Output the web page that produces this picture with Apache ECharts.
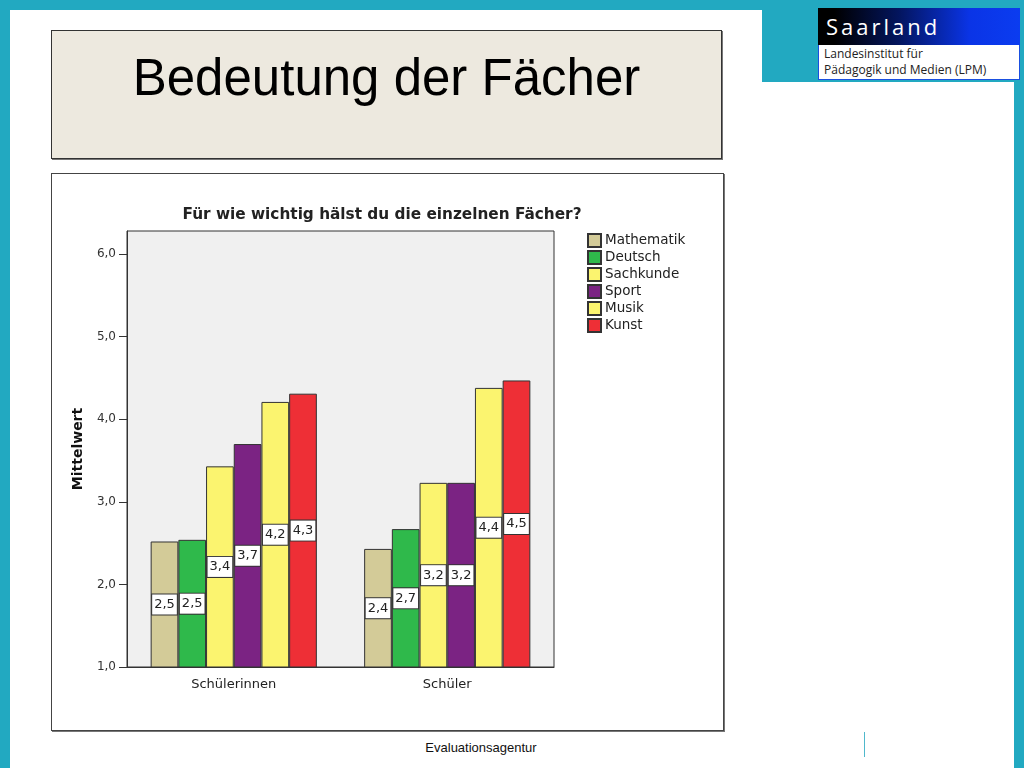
<!DOCTYPE html>
<html>
<head>
<meta charset="utf-8">
<script src="https://cdn.jsdelivr.net/npm/echarts@6/dist/echarts.min.js"></script>
<style>
  html, body { margin:0; padding:0; width:1024px; height:768px; overflow:hidden; background:#22a9c1; position:relative; font-family:"Liberation Sans", Arial, sans-serif; }
  .abs { position:absolute; }
  #chart { position:absolute; left:0; top:0; width:1024px; height:768px; }
</style>
</head>
<body>
<div class="abs" style="left:10px;top:10px;width:752px;height:758px;background:#fff;"></div>
<div class="abs" style="left:762px;top:82px;width:252px;height:686px;background:#fff;"></div>
<div class="abs" style="left:51px;top:30px;width:669px;height:127px;background:#ede9df;border:1px solid #333;box-shadow:1px 1px 0 #777;"></div>
<div class="abs" style="left:51px;top:52px;width:671px;text-align:center;font-size:51px;color:#000;line-height:52px;">Bedeutung der Fächer</div>
<div class="abs" style="left:51px;top:173px;width:671px;height:556px;background:#fff;border:1px solid #444;box-shadow:1px 1px 0 #777;"></div>
<div class="abs" style="left:818px;top:8px;width:202px;height:37px;background:linear-gradient(to right,#000 0%,#000 8%,#03155e 40%,#0a34e6 75%,#0b3cf0 100%);"></div>
<div class="abs" style="left:826px;top:11px;font-family:'Open Sans','DejaVu Sans',sans-serif;font-size:22px;letter-spacing:3px;color:#fff;line-height:30px;">Saarland</div>
<div class="abs" style="left:818px;top:45px;width:200px;height:34px;background:#fff;border:1px solid #1a4fe0;border-top:none;"></div>
<div class="abs" style="left:824px;top:46px;font-family:'Open Sans','DejaVu Sans',sans-serif;font-size:12px;color:#222;line-height:16px;">Landesinstitut für<br>Pädagogik und Medien (LPM)</div>
<div class="abs" style="left:864px;top:732px;width:1px;height:25px;background:#4fb8cc;"></div>
<div class="abs" style="left:380px;top:740px;width:202px;text-align:center;font-size:13px;color:#111;">Evaluationsagentur</div>
<div id="chart"></div>
<script>
const categories = ['Schülerinnen', 'Schüler'];
const seriesNames = ['Mathematik', 'Deutsch', 'Sachkunde', 'Sport', 'Musik', 'Kunst'];
const mathematik = [2.52, 2.43];
const deutsch = [2.54, 2.67];
const sachkunde = [3.43, 3.23];
const sport = [3.70, 3.23];
const musik = [4.21, 4.38];
const kunst = [4.31, 4.47];
const yTicks = [1, 2, 3, 4, 5, 6];
const seriesData = [mathematik, deutsch, sachkunde, sport, musik, kunst];
const colors = ['#d3cb98', '#2fb94b', '#fbf46f', '#7b2383', '#fbf46f', '#ee2f36'];
const font = '"DejaVu Sans", sans-serif';
const fmt = v => (Math.round(v * 10) / 10).toFixed(1).replace('.', ',');

const chart = echarts.init(document.getElementById('chart'), null, { renderer: 'canvas' });
chart.setOption({
  backgroundColor: 'transparent',
  animation: false,
  title: {
    text: 'Für wie wichtig hälst du die einzelnen Fächer?',
    left: 377, top: 203, textAlign: 'center',
    textStyle: { fontFamily: font, fontSize: 15.3, fontWeight: 'bold', color: '#222' }
  },
  legend: {
    orient: 'vertical', left: 587, top: 233, padding: 0,
    itemWidth: 13, itemHeight: 13, itemGap: 2,
    icon: 'rect',
    textStyle: { fontFamily: font, fontSize: 13.5, color: '#222', lineHeight: 14, padding: [0, 0, 0, -1] },
    data: seriesNames
  },
  grid: {
    left: 127, top: 231, width: 427, height: 436,
    show: true, backgroundColor: '#f0f0f0', borderColor: '#333', borderWidth: 1
  },
  xAxis: {
    type: 'category', data: categories,
    axisLine: { lineStyle: { color: '#333', width: 1 } },
    axisTick: { alignWithLabel: true, length: 8, lineStyle: { color: '#333' } },
    axisLabel: { fontFamily: font, fontSize: 13, color: '#222', margin: 11 }
  },
  yAxis: {
    type: 'value', min: 1, max: 6.28, interval: 1,
    name: 'Mittelwert', nameLocation: 'middle', nameGap: 42,
    nameTextStyle: { fontFamily: font, fontSize: 14, fontWeight: 'bold', color: '#111' },
    splitLine: { show: false },
    axisLine: { show: true, lineStyle: { color: '#333' } },
    axisTick: { show: true, length: 8, lineStyle: { color: '#333' }, customValues: yTicks },
    axisLabel: { fontFamily: font, fontSize: 12, color: '#333', margin: 11, formatter: fmt, customValues: yTicks }
  },
  series: seriesNames.map((name, i) => ({
    name, type: 'bar', data: seriesData[i],
    barWidth: 27.7, barGap: '0%', clip: true,
    itemStyle: { color: colors[i], borderColor: '#333', borderWidth: 1 },
    label: {
      show: true, position: 'inside',
      formatter: p => fmt(p.value),
      backgroundColor: '#fff', borderColor: '#333', borderWidth: 1,
      padding: [4, 2, 3, 2],
      fontFamily: font, fontSize: 13, color: '#222'
    }
  }))
});
</script>
</body>
</html>
